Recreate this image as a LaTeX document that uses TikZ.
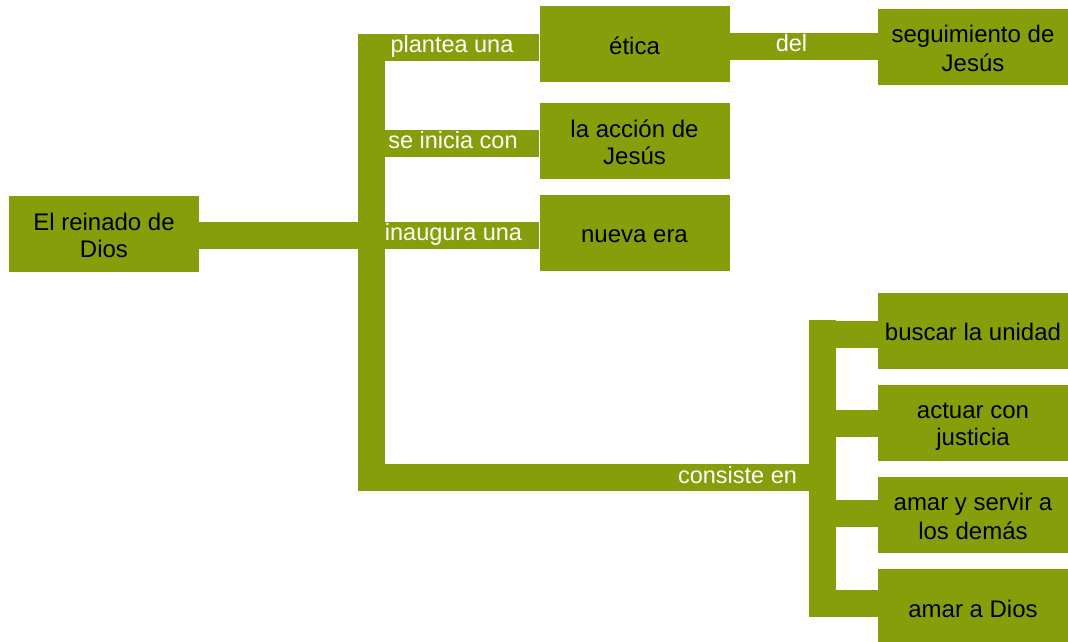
\documentclass[tikz,border=0pt]{standalone}
\usepackage{fontspec}
\setmainfont{Liberation Sans}
\definecolor{olivebox}{RGB}{135,158,11}
\newcommand\bxs{\rule[-3.5pt]{0pt}{27pt}}
\begin{document}
\begin{tikzpicture}[x=1pt,y=-1pt,
  box/.style={fill=olivebox, draw=none, text=black, align=center,
    minimum width=190pt, minimum height=76pt, inner sep=0pt,
    font=\fontsize{24}{27}\selectfont},
  bar/.style={draw=olivebox, line width=27pt},
  lab/.style={text=white, anchor=base, inner sep=0pt,
    font=\fontsize{23.5}{27}\selectfont}]
\useasboundingbox (0,0) rectangle (1068,641);
% boxes
\node[box] (root) at (104,233.5) {\bxs El reinado de\\\bxs Dios};
\node[box] (etica) at (634.5,44) {\bxs ética};
\node[box] (accion) at (634.5,140.5) {\bxs la acción de\\\bxs Jesús};
\node[box] (nueva) at (634.5,232.5) {\bxs nueva era};
\node[box] (seg) at (973,47) {\bxs seguimiento de\\\bxs Jesús};
\node[box] (buscar) at (973,330.5) {\bxs buscar la unidad};
\node[box] (actuar) at (973,423) {\bxs actuar con\\\bxs justicia};
\node[box] (servir) at (973,515) {\bxs amar y servir a\\\bxs los demás};
\node[box] (dios) at (973,607) {\bxs amar a Dios};
% connectors
\coordinate (trunkTop) at (371,34);
\coordinate (trunkBot) at (371,490);
\draw[bar] (trunkTop) -- (trunkBot);
\coordinate (pl) at (358,47);
\draw[bar] (pl) -- (pl -| etica.west);
\coordinate (si) at (371,143.5);
\draw[bar] (si) -- (si -| accion.west);
\coordinate (ib) at (199,235);
\draw[bar] (ib) -- (ib -| nueva.west);
\coordinate (dl) at (729,46);
\draw[bar] (dl) -- (dl -| seg.west);
\coordinate (bTop) at (822.5,320);
\coordinate (bBot) at (822.5,617);
\draw[bar] (bTop) -- (bBot);
\coordinate (cs) at (358,477);
\draw[bar] (cs) -- (cs -| bTop);
\coordinate (k1) at (822.5,334);
\draw[bar] (k1) -- (k1 -| buscar.west);
\coordinate (k2) at (822.5,423.5);
\draw[bar] (k2) -- (k2 -| actuar.west);
\coordinate (k3) at (822.5,513.5);
\draw[bar] (k3) -- (k3 -| servir.west);
\coordinate (k4) at (822.5,603.5);
\draw[bar] (k4) -- (k4 -| dios.west);
% labels
\node[lab] (lpl) at (452,52) {plantea una};
\node[lab] (lsi) at (453,148) {se inicia con};
\node[lab] (lin) at (453.5,240) {inaugura una};
\node[lab] (lcs) at (737.5,483) {consiste en};
\node[lab] (ldel) at (791.5,51) {del};
\end{tikzpicture}
\end{document}
